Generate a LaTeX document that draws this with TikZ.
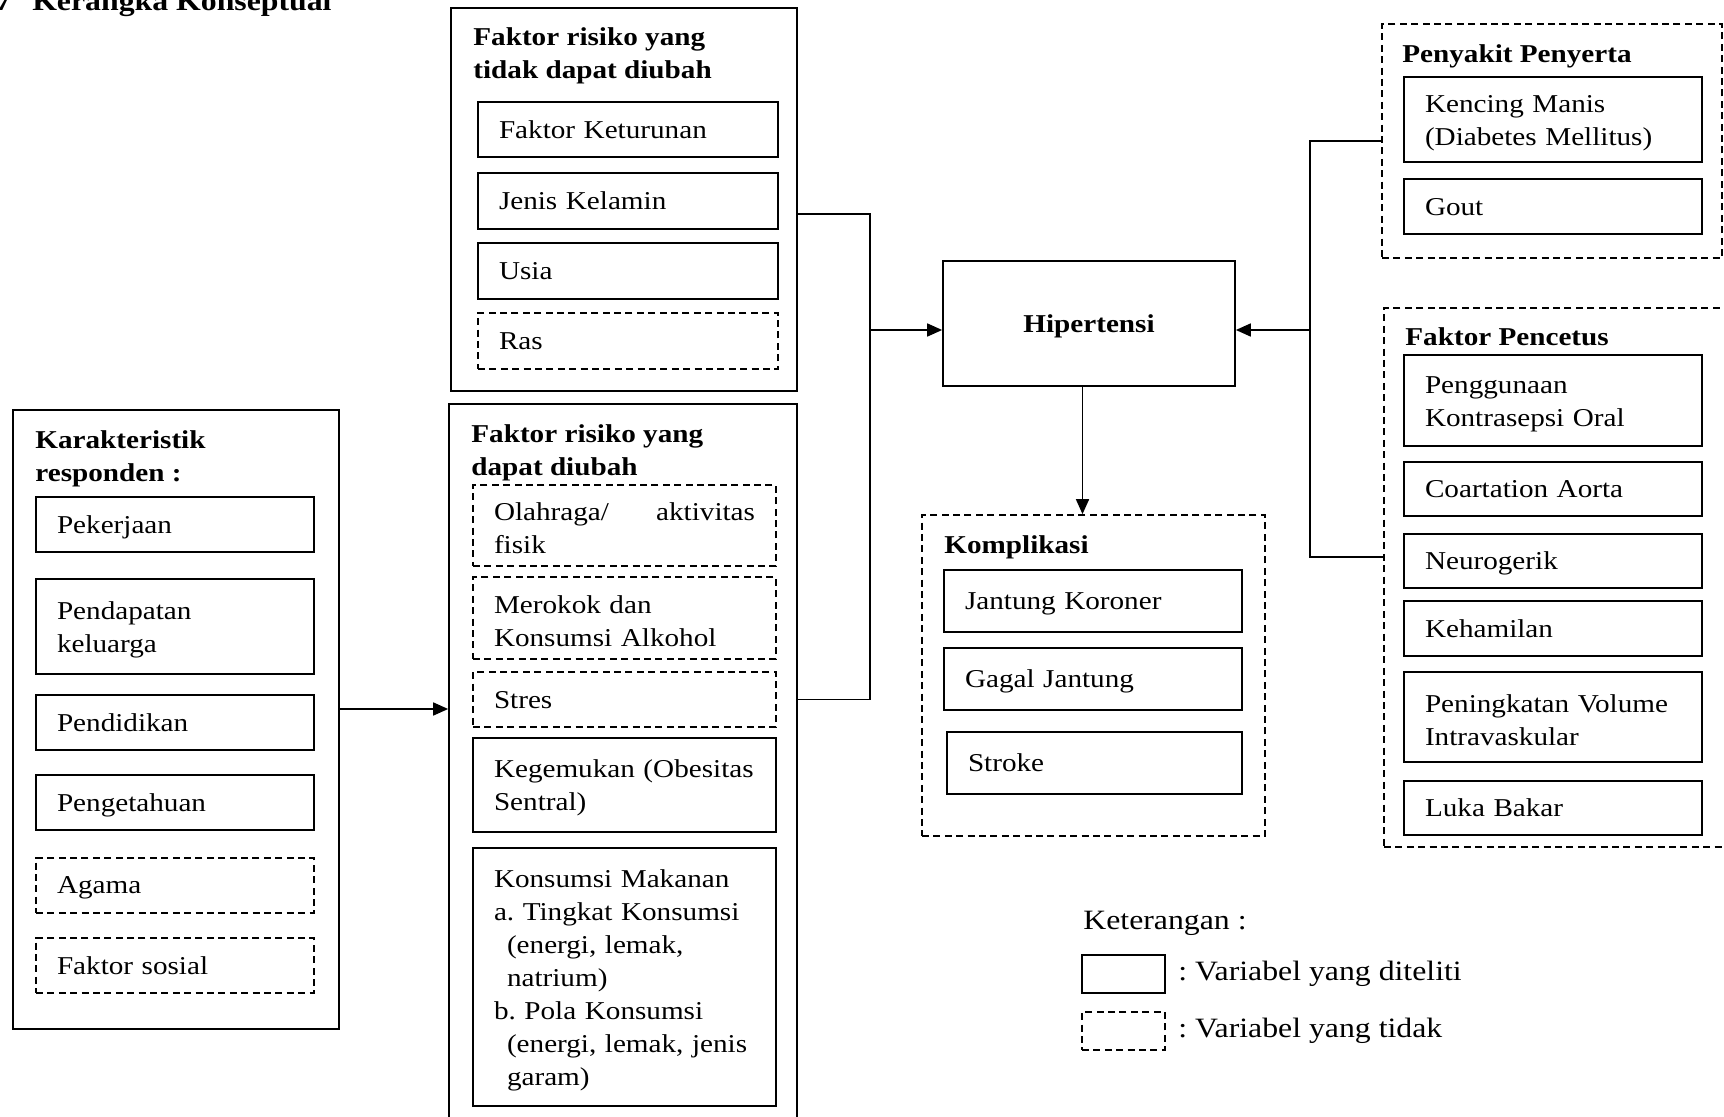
\documentclass[tikz,border=0pt]{standalone}
\usepackage{fontspec}
\setmainfont{Liberation Serif}[FakeStretch=1.135]
\usetikzlibrary{arrows.meta}
\newcommand{\bodyfont}{\fontsize{12.85pt}{16.5pt}\selectfont}
\newcommand{\legfont}{\fontsize{14pt}{17pt}\selectfont}
\frenchspacing

\begin{document}
\begin{tikzpicture}[
    x=0.5pt, y=-0.5pt,
    font=\bodyfont,
    grp/.style={draw, line width=0.85pt, inner sep=0pt},
    itm/.style={draw, line width=0.85pt, align=left, inner xsep=10.5pt,
                inner ysep=0pt, text depth=0pt},
    itmm/.style={draw, line width=0.85pt, align=left, inner xsep=10.5pt,
                 inner ysep=0pt, text height=12pt},
    tdk/.style={dash pattern=on 3.5pt off 2.2pt},
    ttl/.style={font=\bodyfont\bfseries, align=left, inner sep=0pt,
                anchor=west},
    conn/.style={line width=0.85pt},
    arr/.style={conn, -{Triangle[length=7.5pt, width=6.5pt]}},
]
\useasboundingbox (0,0) rectangle (1724,1117);

% --- Judul ---
\node[anchor=base east, inner sep=0pt, font=\legfont\bfseries]
    (judul) at (332, 11) {7\hspace{10.5pt}Kerangka Konseptual};

% --- Faktor risiko yang tidak dapat diubah ---
\node[grp, minimum width=173pt, minimum height=191.5pt]
    (boxA) at (624, 199.5) {};
\node[ttl] (ttlA) at (473, 56) {Faktor risiko yang\\tidak dapat diubah};
\node[itm, text width=129pt, minimum height=27.5pt]
    (ketu) at (628, 129.5) {Faktor Keturunan};
\node[itm, text width=129pt, minimum height=28pt]
    (kelamin) at (628, 201) {Jenis Kelamin};
\node[itm, text width=129pt, minimum height=28pt]
    (usia) at (628, 271) {Usia};
\node[itm, tdk, text width=129pt, minimum height=28pt]
    (ras) at (628, 341) {Ras};

% --- Faktor risiko yang dapat diubah ---
\node[grp, minimum width=174pt, minimum height=363pt]
    (boxB) at (623, 767) {};
\node[ttl] (ttlB) at (471, 453) {Faktor risiko yang\\dapat diubah};
\node[itmm, tdk, text width=130.5pt, minimum height=40.5pt]
    (olah) at (624.5, 525.5) {Olahraga/\hskip 0pt plus 1fill aktivitas\\fisik};
\node[itmm, tdk, text width=130.5pt, minimum height=41pt]
    (rokok) at (624.5, 618) {Merokok dan\\Konsumsi Alkohol};
\node[itm, tdk, text width=130.5pt, minimum height=27.5pt]
    (stres) at (624.5, 699.5) {Stres};
\node[itmm, text width=130.5pt, minimum height=47pt]
    (gemuk) at (624.5, 785) {Kegemukan (Obesitas\\Sentral)};
\node[itmm, text width=130.5pt, minimum height=129pt]
    (makan) at (624.5, 977) {Konsumsi Makanan\\
    a.\ Tingkat Konsumsi\\
    \hspace*{6.5pt}(energi, lemak,\\
    \hspace*{6.5pt}natrium)\\
    b.\ Pola Konsumsi\\
    \hspace*{6.5pt}(energi, lemak, jenis\\
    \hspace*{6.5pt}garam)};

% --- Karakteristik responden ---
\node[grp, minimum width=163pt, minimum height=309.5pt]
    (kar) at (176, 719.5) {};
\node[ttl] (ttlK) at (35, 459) {Karakteristik\\responden :};
\node[itm, text width=118pt, minimum height=27.5pt]
    (kerja) at (175, 524.5) {Pekerjaan};
\node[itmm, text width=118pt, minimum height=47.5pt]
    (pendapatan) at (175, 626.5) {Pendapatan\\keluarga};
\node[itm, text width=118pt, minimum height=27.5pt]
    (didik) at (175, 722.5) {Pendidikan};
\node[itm, text width=118pt, minimum height=27.5pt]
    (tahu) at (175, 802.5) {Pengetahuan};
\node[itm, tdk, text width=118pt, minimum height=27.5pt]
    (agama) at (175, 885.5) {Agama};
\node[itm, tdk, text width=118pt, minimum height=27.5pt]
    (sosial) at (175, 965.5) {Faktor sosial};

% --- Hipertensi dan komplikasi ---
\node[grp, minimum width=146pt, minimum height=62.5pt, text depth=0pt,
      font=\bodyfont\bfseries]
    (hip) at (1089, 323.5) {Hipertensi};

\node[grp, tdk, minimum width=171.5pt, minimum height=160.5pt]
    (komp) at (1093.5, 675.5) {};
\node[ttl] (ttlKomp) at (944, 547) {Komplikasi};
\node[itm, text width=128pt, minimum height=31pt]
    (koroner) at (1093, 601) {Jantung Koroner};
\node[itm, text width=128pt, minimum height=31pt]
    (gagal) at (1093, 679) {Gagal Jantung};
\node[itm, text width=126.5pt, minimum height=31pt]
    (stroke) at (1094.5, 763) {Stroke};

% --- Penyakit penyerta ---
\node[grp, tdk, minimum width=170pt, minimum height=117pt]
    (peny) at (1552, 141) {};
\node[ttl] (ttlP) at (1402, 56) {Penyakit Penyerta};
\node[itmm, text width=128pt, minimum height=42.5pt]
    (manis) at (1553, 119.5) {Kencing Manis\\(Diabetes Mellitus)};
\node[itm, text width=128pt, minimum height=27.5pt]
    (gout) at (1553, 206.5) {Gout};

% --- Faktor pencetus ---
\node[grp, tdk, minimum width=180pt, minimum height=269.5pt]
    (pencetus) at (1564, 577.5) {};
\node[ttl] (ttlF) at (1405, 337) {Faktor Pencetus};
\node[itmm, text width=128pt, minimum height=45.5pt]
    (oral) at (1553, 400.5) {Penggunaan\\Kontrasepsi Oral};
\node[itm, text width=128pt, minimum height=27pt]
    (aorta) at (1553, 489) {Coartation Aorta};
\node[itm, text width=128pt, minimum height=27pt]
    (neuro) at (1553, 561) {Neurogerik};
\node[itm, text width=128pt, minimum height=27.5pt]
    (hamil) at (1553, 628.5) {Kehamilan};
\node[itmm, text width=128pt, minimum height=45pt]
    (volume) at (1553, 717) {Peningkatan Volume\\Intravaskular};
\node[itm, text width=128pt, minimum height=27pt]
    (luka) at (1553, 808) {Luka Bakar};

% --- Penghubung ---
\coordinate (jl) at (870, 330);
\coordinate (jr) at (1310, 330);

\draw[arr] ([yshift=5.25pt]kar.east) -- ([yshift=5.25pt]kar.east -| boxB.west);
\draw[conn] ([yshift=-7.25pt]boxA.east) -| (jl) |- (boxB.east |- stres);
\draw[arr] (jl) -- (jl -| hip.west);
\draw[conn] (peny.west) -| (jr) |- ([yshift=10.25pt]pencetus.west);
\draw[arr] (jr) -- (jr -| hip.east);
\draw[arr] ([xshift=-3.25pt]hip.south) -- ([xshift=-3.25pt]hip.south |- komp.north);

% --- Keterangan ---
\node[anchor=west, inner sep=0pt, font=\legfont]
    (ket) at (1083, 923.5) {Keterangan :};
\node[grp, minimum width=41.5pt, minimum height=19pt]
    (legA) at (1123.5, 974) {};
\node[grp, tdk, minimum width=41.5pt, minimum height=19pt]
    (legB) at (1123.5, 1031) {};
\node[anchor=west, inner sep=0pt, font=\legfont]
    (legAt) at (1178, 973.5) {: Variabel yang diteliti};
\node[anchor=west, inner sep=0pt, font=\legfont]
    (legBt) at (1178, 1030.5) {: Variabel yang tidak};

\end{tikzpicture}
\end{document}
